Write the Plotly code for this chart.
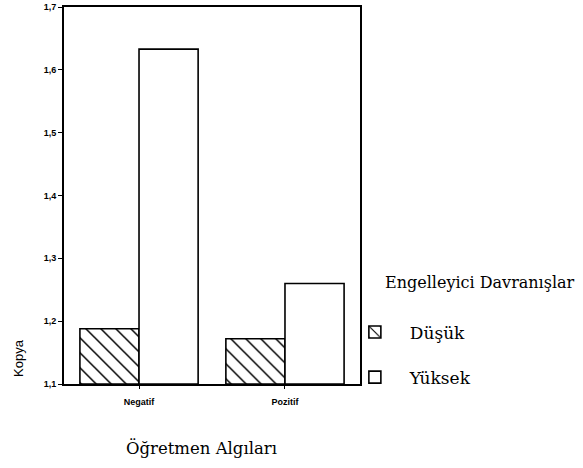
import plotly.graph_objects as go

categories = ["Negatif", "Pozitif"]
dusuk = [1.188, 1.172]
yuksek = [1.633, 1.260]
series_names = ["Düşük", "Yüksek"]
y_ticks = [1.1, 1.2, 1.3, 1.4, 1.5, 1.6, 1.7]
base_value = 1.1

x_idx = list(range(len(categories)))

fig = go.Figure()
fig.add_trace(go.Bar(
    x=x_idx, y=[v - base_value for v in dusuk], base=base_value, name=series_names[0],
    marker=dict(color="white", line=dict(color="black", width=1.6),
                pattern=dict(shape="\\", size=10.6, solidity=0.14, fgcolor="black",
                             bgcolor="white", fgopacity=1)),
    legendgroup="a", hoverinfo="skip",
))
fig.add_trace(go.Bar(
    x=x_idx, y=[v - base_value for v in yuksek], base=base_value, name=series_names[1],
    marker=dict(color="white", line=dict(color="black", width=1.6)),
    legendgroup="b", hoverinfo="skip",
))

fig.update_layout(
    width=583, height=468,
    margin=dict(l=64, r=223, t=7, b=84),
    paper_bgcolor="white", plot_bgcolor="white",
    barmode="group", bargap=0.19, bargroupgap=0,
    separators=",.",
    showlegend=True,
    legend=dict(x=0.932, xanchor="left", y=0.077, yanchor="middle",
                font=dict(family="DejaVu Serif", size=17, color="black"),
                tracegroupgap=20, itemwidth=60, bgcolor="rgba(0,0,0,0)"),
    font=dict(family="Liberation Sans", color="black"),
)
fig.update_xaxes(
    range=[-0.514, 1.514], tickmode="array", tickvals=x_idx, ticktext=categories,
    showline=True, linecolor="black", linewidth=2, mirror=True,
    ticks="outside", ticklen=3, tickcolor="black", ticklabelstandoff=5,
    tickfont=dict(family="Liberation Sans", size=9, color="black", weight="bold"),
    showgrid=False, zeroline=False, automargin=False,
)
fig.update_yaxes(
    range=[1.1, 1.7], tickmode="array", tickvals=y_ticks, tickformat=".1f",
    showline=True, linecolor="black", linewidth=2, mirror=True,
    ticks="outside", ticklen=4, tickcolor="black",
    tickfont=dict(family="Liberation Sans", size=9, color="black", weight="bold"),
    showgrid=False, zeroline=False, automargin=False,
)
fig.add_annotation(text="Kopya", textangle=-90, xref="paper", yref="paper",
                   x=-0.152, y=0.069, xanchor="center", yanchor="middle", showarrow=False,
                   font=dict(family="Liberation Sans", size=13, color="black"))
fig.add_annotation(text="Öğretmen Algıları", xref="paper", yref="paper",
                   x=0.466, y=-0.17, xanchor="center", yanchor="middle", showarrow=False,
                   font=dict(family="DejaVu Serif", size=16.5, color="black"))
fig.add_annotation(text="Engelleyici Davranışlar", xref="paper", yref="paper",
                   x=1.078, y=0.27, xanchor="left", yanchor="middle", showarrow=False,
                   font=dict(family="DejaVu Serif", size=16, color="black"))

fig.write_html("out.html", config={"displayModeBar": False},
               post_script="document.body.style.margin='0';")
